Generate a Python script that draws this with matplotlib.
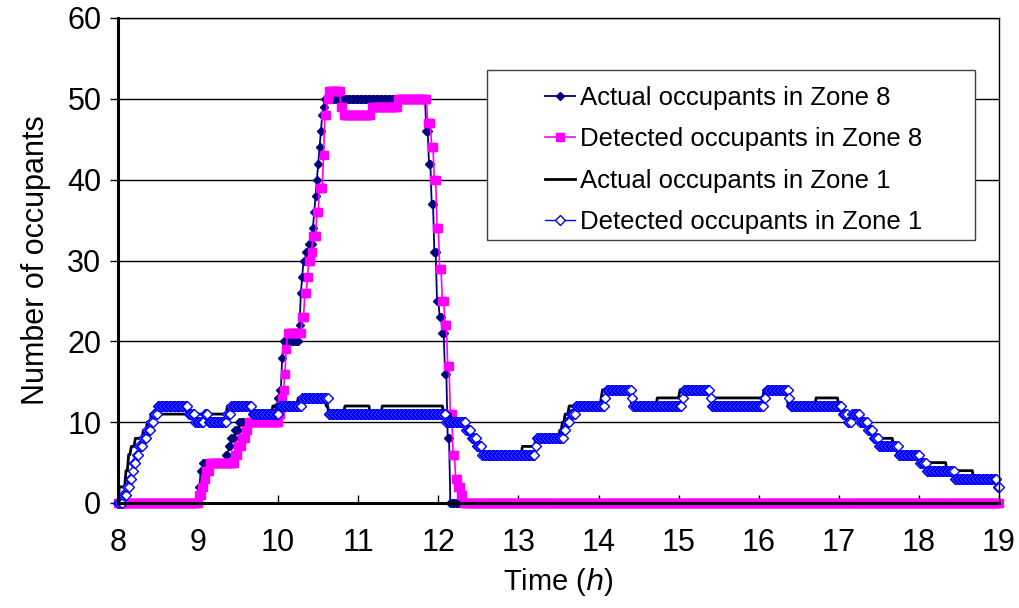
import numpy as np
import matplotlib.pyplot as plt
from matplotlib.patches import Rectangle

plt.rcParams['font.family'] = ['Liberation Sans', 'DejaVu Sans']

# each series: minute after 8:00 where the count changes, and the new count
z8_actual_start = [0, 61, 62, 64, 81, 83, 85, 88, 91, 119, 120, 121, 123, 124, 136, 137, 138, 139,
                   141, 143, 146, 147, 148, 149, 150, 151, 152, 153, 154, 155, 231, 233, 235, 237,
                   239, 241, 243, 245, 247, 249]
z8_actual_val = [0, 2, 4, 5, 6, 7, 8, 9, 10, 12, 13, 14, 18, 20, 22, 26, 28, 30,
                 31, 32, 34, 36, 38, 40, 42, 44, 46, 48, 49, 50, 46, 42, 37, 31,
                 25, 23, 21, 16, 8, 0]

z8_detected_start = [0, 61, 63, 65, 66, 69, 88, 90, 93, 96, 98, 121, 122, 123, 124, 125, 126, 127,
                     138, 140, 142, 143, 145, 146, 149, 151, 154, 155, 157, 158, 167, 169, 190, 210,
                     232, 235, 237, 239, 241, 243, 245, 247, 249, 251, 253, 255, 257, 259]
z8_detected_val = [0, 1, 2, 3, 4, 5, 6, 7, 8, 9, 10, 11, 12, 13, 14, 16, 19, 21,
                   23, 26, 28, 30, 31, 33, 36, 39, 43, 48, 50, 51, 49, 48, 49, 50,
                   47, 44, 40, 34, 29, 25, 22, 17, 11, 6, 3, 2, 1, 0]

z1_actual_start = [0, 1, 6, 8, 10, 13, 19, 22, 25, 82, 100, 116, 135, 156, 158, 170, 189, 198,
                   244, 250, 262, 266, 270, 272, 303, 313, 331, 333, 335, 338, 362, 363, 384, 385,
                   404, 421, 443, 484, 502, 523, 540, 543, 557, 562, 566, 581, 584, 600, 621, 641]
z1_actual_val = [0, 2, 4, 6, 7, 8, 9, 10, 11, 12, 11, 12, 13, 12, 11, 12, 11, 12,
                 11, 10, 9, 8, 7, 6, 7, 8, 9, 10, 11, 12, 13, 14, 13, 12,
                 13, 14, 13, 14, 12, 13, 12, 11, 10, 9, 8, 7, 6, 5, 4, 3]

z1_detected_start = [0, 4, 7, 9, 11, 12, 14, 16, 19, 22, 25, 27, 30, 53, 58, 65, 68, 82, 85, 101,
                     121, 138, 158, 246, 261, 265, 269, 273, 313, 314, 334, 336, 339, 343, 365, 366,
                     385, 386, 423, 424, 444, 445, 484, 486, 503, 504, 543, 547, 550, 556, 562, 566,
                     570, 585, 601, 606, 627, 659]
z1_detected_val = [0, 1, 2, 3, 4, 5, 6, 7, 8, 9, 10, 11, 12, 11, 10, 11, 10, 11, 12, 11,
                   12, 13, 11, 10, 9, 8, 7, 6, 7, 8, 9, 10, 11, 12, 13, 14,
                   13, 12, 13, 14, 13, 12, 13, 14, 13, 12, 11, 10, 11, 10, 9, 8,
                   7, 6, 5, 4, 3, 2]

labels = ['Actual occupants in Zone 8', 'Detected occupants in Zone 8',
          'Actual occupants in Zone 1', 'Detected occupants in Zone 1']

minutes = np.arange(0, 661)
hours = 8 + minutes / 60


def expand(starts, vals):
    idx = np.searchsorted(starts, minutes, side='right') - 1
    return np.array(vals)[idx]


fig = plt.figure(figsize=(10.19, 6.08), dpi=100)
ax = fig.add_axes([118 / 1019, 1 - 503 / 608, 881 / 1019, 485 / 608])

ax.plot(hours, expand(z8_actual_start, z8_actual_val), color='#000080', lw=1.3,
        marker='D', ms=4, label=labels[0], clip_on=False)
ax.plot(hours, expand(z8_detected_start, z8_detected_val), color='#FF00FF', lw=1.2,
        marker='s', ms=6, label=labels[1], clip_on=False)
ax.plot(hours, expand(z1_actual_start, z1_actual_val), color='black', lw=2,
        label=labels[2], clip_on=False)
ax.plot(hours, expand(z1_detected_start, z1_detected_val), color='#0000FF', lw=1,
        marker='D', ms=5.5, mfc='white', mec='#0000FF', mew=1, label=labels[3], clip_on=False)

ax.set_xlim(8, 19)
ax.set_ylim(0, 60)
ax.set_xticks(range(8, 20))
ax.set_yticks(range(0, 61, 10))
ax.yaxis.grid(True, color='black', lw=1)
ax.set_axisbelow(True)

for s in ['left', 'bottom']:
    ax.spines[s].set_linewidth(2.2)
for s in ['top', 'right']:
    ax.spines[s].set_linewidth(1)
ax.tick_params(axis='x', direction='in', length=6, width=1, labelsize=22, pad=18)
ax.tick_params(axis='y', direction='out', length=6, width=1, labelsize=22, pad=6)

ax.set_xlabel('Time ($\\it{h}$)', fontsize=21, labelpad=6)
ax.set_ylabel('Number of occupants', fontsize=22, labelpad=12)

# legend box
x0, x1 = (487 - 118) / 881, (975 - 118) / 881
y0, y1 = (503 - 240) / 485, (503 - 70) / 485
ax.add_patch(Rectangle((x0, y0), x1 - x0, y1 - y0, transform=ax.transAxes,
                       facecolor='white', edgecolor='#404040', lw=1, zorder=5))
leg = ax.legend(loc='upper left', bbox_to_anchor=((545 - 118) / 881, (503 - 86) / 485),
                frameon=False, fontsize=18.5, handlelength=1.17, handletextpad=0.2,
                labelspacing=0.68, borderpad=0, borderaxespad=0)
leg.set_zorder(6)

fig.savefig('out.png', dpi=100)
